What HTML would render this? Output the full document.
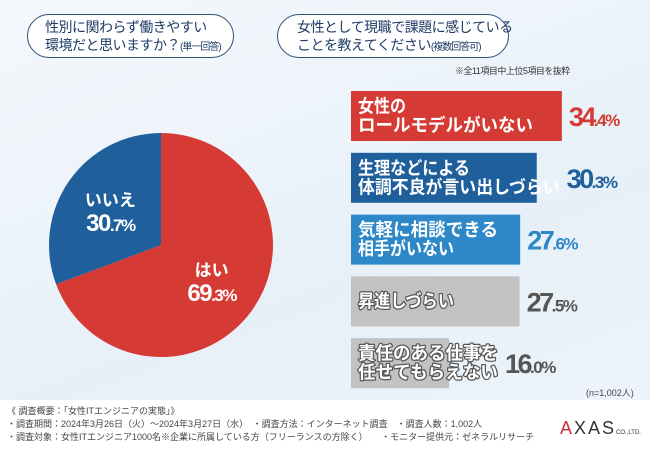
<!DOCTYPE html>
<html><head><meta charset="utf-8"><style>
body{margin:0;width:650px;height:450px;overflow:hidden;font-family:"Liberation Sans","Noto Sans CJK JP",sans-serif;}
#root{position:relative;width:650px;height:450px;background:linear-gradient(160deg,#f4f8fc 0%,#e7f0f8 60%,#eef4fa 100%);}
.pill{position:absolute;border:1.5px solid #2d5078;border-radius:22px;background:#fff;color:#1e3c66;font-size:14px;line-height:18px;padding:0;box-sizing:border-box;}
.pill span{position:absolute;white-space:nowrap;letter-spacing:-0.5px;}
.foot{position:absolute;left:0;top:400px;width:650px;height:50px;background:#fff;font-size:9px;color:#444;}
.foot div{position:absolute;white-space:nowrap;}
</style></head><body>
<div id="root">
<div class="pill" style="left:27px;top:14px;width:207px;height:44px;"><span style="left:17px;top:3px;">性別に関わらず働きやすい</span><span style="left:17px;top:21px;">環境だと思いますか？<small style="font-size:10px;letter-spacing:-1px">(単一回答)</small></span></div>
<div class="pill" style="left:277px;top:14px;width:232px;height:44px;"><span style="left:19px;top:3px;">女性として現職で課題に感じている</span><span style="left:19px;top:21px;">ことを教えてください<small style="font-size:10px;letter-spacing:-1px">(複数回答可)</small></span></div>
<div style="position:absolute;left:455px;top:64px;font-size:9px;color:#333;white-space:nowrap;letter-spacing:-0.5px;">※全11項目中上位5項目を抜粋</div>
<svg id="chart" width="650" height="400" style="position:absolute;left:0;top:0;"></svg>
<div style="position:absolute;left:586px;top:386px;font-size:9px;color:#444;white-space:nowrap;">(n=1,002人)</div>
<div class="foot">
<div style="left:7px;top:4px;">《 調査概要：「女性ITエンジニアの実態」》</div>
<div style="left:7px;top:17px;">・調査期間：2024年3月26日（火）～2024年3月27日（水）　・調査方法：インターネット調査　・調査人数：1,002人</div>
<div style="left:7px;top:30px;">・調査対象：女性ITエンジニア1000名※企業に所属している方（フリーランスの方除く）　　・モニター提供元：ゼネラルリサーチ</div>
<div style="left:560px;top:18px;font-size:18px;color:#333;letter-spacing:2px;"><span style="color:#c8323a">A</span>XAS<small style="font-size:6px;letter-spacing:0">CO.,LTD.</small></div>
</div>
</div>
<script>
const pieLabels=["はい","いいえ"];
const pieValues=[69.3,30.7];
const barCats=[["女性の","ロールモデルがいない"],["生理などによる","体調不良が言い出しづらい"],["気軽に相談できる","相手がいない"],["昇進しづらい"],["責任のある仕事を","任せてもらえない"]];
const barValues=[34.4,30.3,27.6,27.5,16.0];
const barColors=["#d63a35","#1f5f9c","#2e88c8","#c2c2c2","#c2c2c2"];
const valColors=["#d63a35","#1f5f9c","#2e88c8","#555","#555"];
const NS="http://www.w3.org/2000/svg";
const svg=document.getElementById('chart');
function el(t,a){const e=document.createElementNS(NS,t);for(const k in a)e.setAttribute(k,a[k]);svg.appendChild(e);return e;}
// pie
const cx=161,cy=245,r=112;const pieColors=["#d63a35","#1f5f9c"];
const total=pieValues.reduce((a,b)=>a+b,0);let ang=0;
pieValues.forEach((v,i)=>{
 const a0=ang,a1=ang+v/total*2*Math.PI;ang=a1;
 const x0=cx+r*Math.sin(a0),y0=cy-r*Math.cos(a0),x1=cx+r*Math.sin(a1),y1=cy-r*Math.cos(a1);
 const p=el('path',{d:`M${cx},${cy}L${x0},${y0}A${r},${r} 0 ${a1-a0>Math.PI?1:0} 1 ${x1},${y1}Z`,fill:pieColors[i]});
 
 
 const m=(a0+a1)/2,lr=r*0.55;const lx=cx+lr*Math.sin(m),ly=cy-lr*Math.cos(m);
 const t1=el('text',{x:lx,y:ly-4,'text-anchor':'middle',fill:'#fff','font-size':17,'font-weight':'bold'});t1.textContent=pieLabels[i];
 
 
 const vs=v.toFixed(1).split('.');
 const t2=el('text',{x:lx,y:ly+21,'text-anchor':'middle',fill:'#fff','font-size':24,'font-weight':'bold','letter-spacing':-1.5});
 t2.innerHTML=`${vs[0]}<tspan font-size="17">.${vs[1]}%</tspan>`;
 
 
});
// bars
const x0=351,scale=6.13,bh=50,top0=91,pitch=61.8;
barValues.forEach((v,i)=>{
 const y=top0+i*pitch,w=v*scale;
 const b=el('rect',{x:x0,y:y,width:w,height:bh,fill:barColors[i]});
 
 
 const lines=barCats[i];let maxEnd=x0+w;
 lines.forEach((s,j)=>{
  const ty=y+bh/2+(j-(lines.length-1)/2)*19+6;
  const len=s.length*(s.length>10?16.8:(s.length>7?17.5:16));
  const t=el('text',{x:x0+7,y:ty,fill:'#fff','font-size':18,'font-weight':'bold',textLength:len,lengthAdjust:'spacingAndGlyphs',stroke:i>2?'#555':'none','stroke-width':i>2?2.5:0,'paint-order':'stroke','stroke-linejoin':'round'});t.textContent=s;
  
  
  maxEnd=Math.max(maxEnd,x0+7+len);
 });
 const vs=v.toFixed(1).split('.');
 const vt=el('text',{x:maxEnd+7,y:y+bh/2+10,fill:valColors[i],'font-size':27,'font-weight':'bold','letter-spacing':-2.5});
 vt.innerHTML=`${vs[0]}<tspan font-size="17" letter-spacing="-1.5">.${vs[1]}%</tspan>`;
 
 
});
</script>
</body></html>
